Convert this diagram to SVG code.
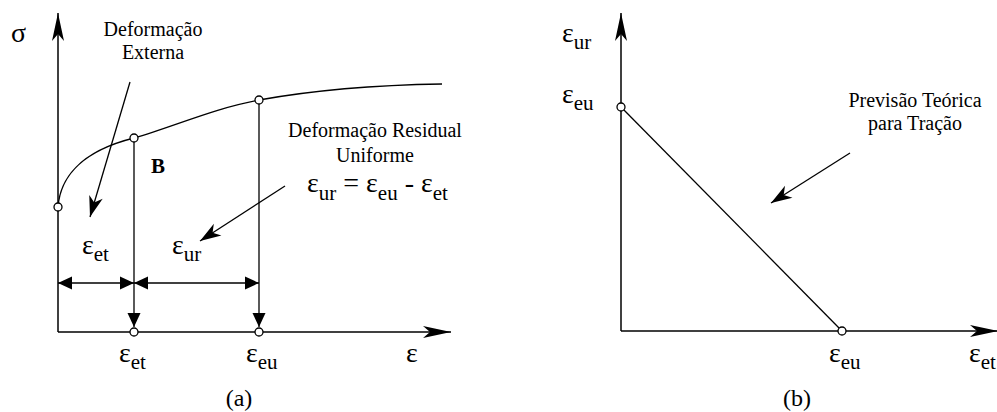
<svg xmlns="http://www.w3.org/2000/svg" width="997" height="412" viewBox="0 0 997 412">
<style>
text{font-family:"Liberation Serif","Times New Roman",serif;fill:#000}
.lbl{font-size:20px;text-anchor:middle}
.eps{font-size:28px}
.sub{font-size:21px}
.ln{stroke:#000;stroke-width:1.3;fill:none}
.ax{stroke:#000;stroke-width:1.5;fill:none}
.pt{fill:#fff;stroke:#000;stroke-width:1.3}
</style>
<defs>
<marker id="axh" markerUnits="userSpaceOnUse" viewBox="-30 -8 32 16" markerWidth="32" markerHeight="16" refX="0" refY="0" orient="auto"><path d="M0,0 L-28,-6 L-21,0 L-28,6 Z" fill="#000"/></marker>
<marker id="ptr" markerUnits="userSpaceOnUse" viewBox="-24 -9 26 18" markerWidth="26" markerHeight="18" refX="0" refY="0" orient="auto"><path d="M0,0 L-21,-7 L-15,0 L-21,7 Z" fill="#000"/></marker>
<marker id="tri" markerUnits="userSpaceOnUse" viewBox="-16 -8 18 16" markerWidth="18" markerHeight="16" refX="0" refY="0" orient="auto"><path d="M0,0 L-14,-6.5 L-14,6.5 Z" fill="#000"/></marker>
<marker id="tris" markerUnits="userSpaceOnUse" viewBox="-16 -8 18 16" markerWidth="18" markerHeight="16" refX="0" refY="0" orient="auto-start-reverse"><path d="M0,0 L-14,-6.5 L-14,6.5 Z" fill="#000"/></marker>
</defs>

<g id="connectors">
<path class="ax" d="M58,332 L58,13" marker-end="url(#axh)"/>
<path class="ax" d="M58,332 L451,332" marker-end="url(#axh)"/>
<path class="ln" d="M58,207 C60,180 78,152 134,138 C175,126 215,108 259,100 C320,89 380,85 442,84"/>
<path class="ln" d="M134,138 L134,327" marker-end="url(#tri)"/>
<path class="ln" d="M259,100 L259,327" marker-end="url(#tri)"/>
<path class="ln" d="M58,283 L134,283" marker-start="url(#tris)" marker-end="url(#tris)"/>
<path class="ln" d="M134,283 L259,283" marker-start="url(#tris)" marker-end="url(#tris)"/>
<path class="ln" d="M130,82 L90,217" marker-end="url(#ptr)"/>
<path class="ln" d="M285,186 L200,241" marker-end="url(#ptr)"/>
<path class="ax" d="M621,331 L621,13" marker-end="url(#axh)"/>
<path class="ax" d="M621,331 L998,331" marker-end="url(#axh)"/>
<path class="ln" d="M621,107 L842,331"/>
<path class="ln" d="M850,153 L771,203" marker-end="url(#ptr)"/>
</g>

<g id="points">
<circle class="pt" cx="58" cy="207" r="4"/>
<circle class="pt" cx="134" cy="138" r="4"/>
<circle class="pt" cx="259" cy="100" r="4"/>
<circle class="pt" cx="134" cy="332" r="4"/>
<circle class="pt" cx="259" cy="332" r="4"/>
<circle class="pt" cx="621" cy="107" r="4"/>
<circle class="pt" cx="842" cy="331" r="4"/>
</g>

<g id="label-sigma"><text x="11" y="42" class="eps">σ</text></g>
<g id="label-def-externa">
<text x="153" y="36" class="lbl">Deformação</text>
<text x="153" y="59" class="lbl">Externa</text>
</g>
<g id="label-B"><text x="151" y="173" font-size="21" font-weight="bold">B</text></g>
<g id="label-def-residual">
<text x="375" y="137" class="lbl">Deformação Residual</text>
<text x="375" y="162" class="lbl">Uniforme</text>
</g>
<g id="label-equation"><text x="307" y="192" class="eps">ε<tspan class="sub" dy="8">ur</tspan><tspan dy="-8"> = ε</tspan><tspan class="sub" dy="8">eu</tspan><tspan dy="-8"> - ε</tspan><tspan class="sub" dy="8">et</tspan></text></g>
<g id="label-et-dim"><text x="82" y="254" class="eps">ε<tspan class="sub" dy="7">et</tspan></text></g>
<g id="label-ur-dim"><text x="172" y="254" class="eps">ε<tspan class="sub" dy="7">ur</tspan></text></g>
<g id="label-et-axis"><text x="119" y="362" class="eps">ε<tspan class="sub" dy="7">et</tspan></text></g>
<g id="label-eu-axis"><text x="246" y="362" class="eps">ε<tspan class="sub" dy="7">eu</tspan></text></g>
<g id="label-eps-axis"><text x="406" y="362" class="eps">ε</text></g>
<g id="label-a"><text x="239" y="406" font-size="24" text-anchor="middle">(a)</text></g>

<g id="label-ur-b"><text x="562" y="42" class="eps">ε<tspan class="sub" dy="7">ur</tspan></text></g>
<g id="label-eu-b"><text x="562" y="103" class="eps">ε<tspan class="sub" dy="7">eu</tspan></text></g>
<g id="label-previsao">
<text x="915" y="107" class="lbl">Previsão Teórica</text>
<text x="915" y="130" class="lbl">para Tração</text>
</g>
<g id="label-eu-b-axis"><text x="829" y="362" class="eps">ε<tspan class="sub" dy="7">eu</tspan></text></g>
<g id="label-et-b-axis"><text x="969" y="362" class="eps">ε<tspan class="sub" dy="7">et</tspan></text></g>
<g id="label-b"><text x="797" y="406" font-size="24" text-anchor="middle">(b)</text></g>
</svg>
